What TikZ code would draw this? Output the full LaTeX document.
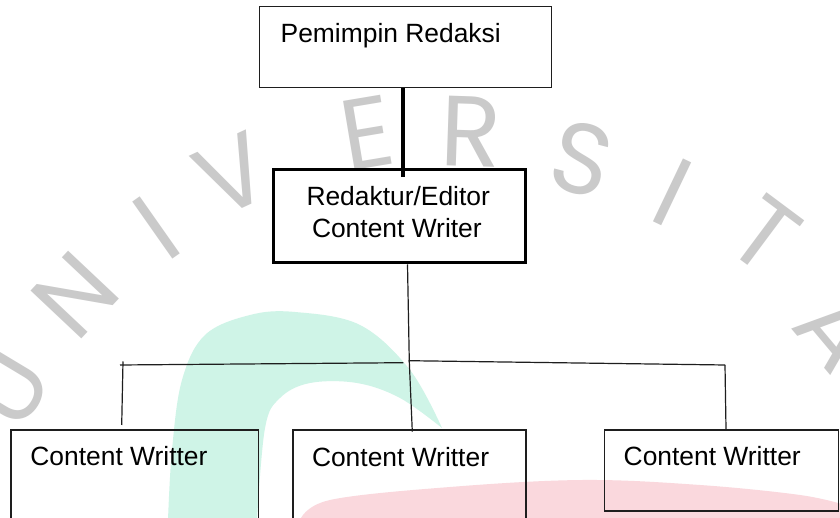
\documentclass[tikz,border=0pt]{standalone}
\usepackage{fontspec}
\setmainfont{Liberation Sans}
\newfontfamily\wmfont{Poppins}
\definecolor{boxline}{RGB}{30,30,30}
\definecolor{wmgray}{RGB}{202,202,202}
\definecolor{wmteal}{RGB}{207,244,231}
\definecolor{wmpink}{RGB}{250,216,221}
\begin{document}
\begin{tikzpicture}[x=1pt,y=1pt,
  box/.style={draw=boxline, line width=1.3pt, inner sep=0pt, rectangle},
  lbl/.style={inner sep=0pt, font=\fontsize{26.4}{31}\selectfont, anchor=base west},
  wm/.style={text=wmgray, inner sep=0pt, font=\wmfont\fontsize{100}{100}\selectfont},
  conn/.style={draw=boxline, line width=1.2pt},
]
\clip (0,0) rectangle (840,518);
\fill[white] (0,0) rectangle (840,518);
% watermark logo
\fill[wmteal] plot[smooth, tension=0.6] coordinates {(168,-2) (172,68) (182,138) (205,183) (250,203) (295,206) (360,193) (410,148) (442,90)}
  -- plot[smooth, tension=0.6] coordinates {(442,90) (400,120) (357,135) (310,135) (280,120) (265,90) (257,-2)} -- cycle;
\fill[wmpink] plot[smooth, tension=0.6] coordinates {(300,-2) (330,18) (450,31) (583,38) (700,33) (800,23) (845,13)} -- (845,-2) -- cycle;
% watermark letters
\node[wm, rotate=59]    (wU)  at (8,130)   {U};
\node[wm, rotate=46.7]  (wN)  at (75,223)  {N};
\node[wm, rotate=35.1]  (wI1) at (157,290) {I};
\node[wm, rotate=24.9]  (wV)  at (232,343) {V};
\node[wm, rotate=9.5]   (wE)  at (367,385) {E};
\node[wm, rotate=-1.9]  (wR)  at (471,386) {R};
\node[wm, rotate=-14.6] (wS)  at (582,359) {S};
\node[wm, rotate=-25.5] (wI2) at (673,326) {I};
\node[wm, rotate=-36.7] (wT)  at (765,283) {T};
\node[wm, rotate=-50]   (wA)  at (838,188) {A};
% boxes
\node[box, minimum width=292pt, minimum height=81pt] (top) at (405.5,471) {};
\node[box, draw=black, line width=3pt, minimum width=252pt, minimum height=93pt] (mid) at (399.5,301.5) {};
\node[box, minimum width=247.5pt, minimum height=118pt] (b1) at (134.75,29) {};
\node[box, minimum width=233pt, minimum height=118pt] (b2) at (409.5,29) {};
\node[box, minimum width=234pt, minimum height=81pt] (b3) at (721.5,47.5) {};
% texts
\node[lbl] (ttop) at (280.5,475.6) {Pemimpin Redaksi};
\node[lbl] (tm1) at (306.3,312.3) {Redaktur/Editor};
\node[lbl] (tm2) at (311.8,280.3) {Content Writer};
\node[lbl] (tb1) at (30.2,52.3) {Content Writter};
\node[lbl] (tb2) at (311.8,51.8) {Content Writter};
\node[lbl] (tb3) at (623.5,52.8) {Content Writter};
% connectors
\coordinate (a1) at (403,341);
\draw[line width=3.2pt, black] (top.south -| a1) -- (a1);
\coordinate (m1) at (407.5,0);
\coordinate (j) at (409.3,156.3);
\coordinate (jb) at (412.3,86.3);
\draw[conn] (mid.south -| m1) -- (j) -- (jb);
\coordinate (hl) at (120,153);
\coordinate (hlr) at (403.3,155.3);
\draw[conn] (hl) -- (hlr);
\coordinate (hr0) at (408.5,157.3);
\coordinate (hr) at (725,153);
\draw[conn] (hr0) -- (hr);
\coordinate (dl) at (123,156.5);
\coordinate (dlb) at (121.7,93);
\draw[conn] (dl) -- (dlb);
\coordinate (d3) at (726,0);
\draw[conn] (hr) -- (b3.north -| d3);
\end{tikzpicture}
\end{document}
